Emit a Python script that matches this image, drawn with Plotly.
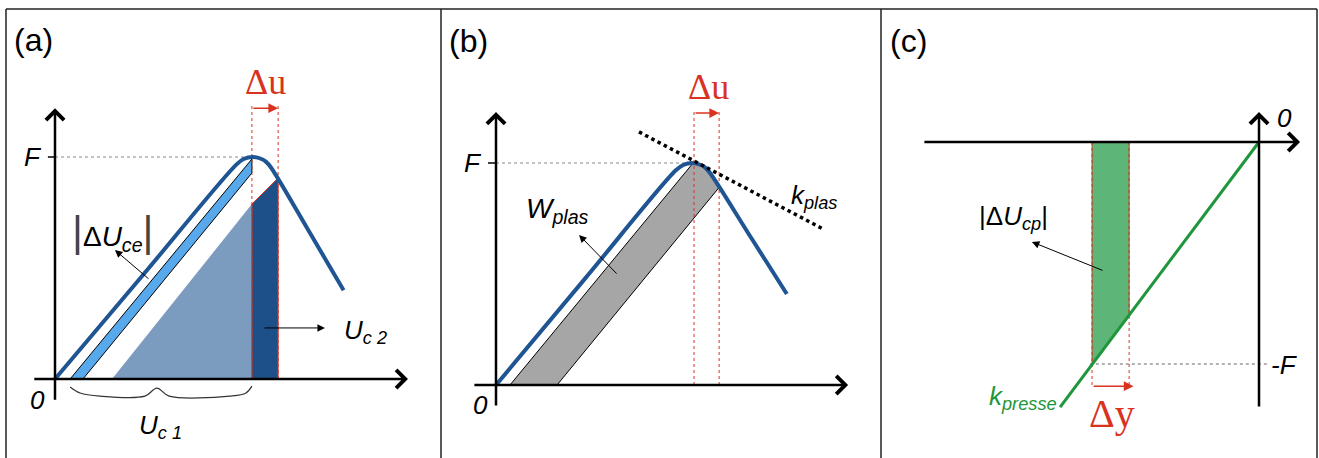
import plotly.graph_objects as go

W, H = 1319, 458
S = 222  # pixels per unit (F = 1)

# ---- panel (a) data (u, F with F = 1) ----
a_curve_u = [0, 0.40, 0.818, 0.85, 0.89, 0.93, 0.951, 0.972, 1.15, 1.30]
a_curve_f = [0, 0.473, 0.967, 0.991, 1.0, 0.991, 0.978, 0.954, 0.655, 0.40]
a_stripe_u = [0.068, 0.887, 0.887, 0.126]
a_stripe_f = [0, 0.991, 0.928, 0]
a_tri_u = [0.257, 0.887, 0.887]
a_tri_f = [0, 0.788, 0]
a_dark_u = [0.887, 0.887, 1.005, 1.005]
a_dark_f = [0, 0.788, 0.905, 0]
a_du = [0.887, 1.005]
a_brace_u = [0.068, 0.113, 0.203, 0.405, 0.459, 0.514, 0.788, 0.86, 0.887]
a_brace_f = [-0.036, -0.063, -0.077, -0.077, -0.041, -0.077, -0.077, -0.063, -0.032]

# ---- panel (b) data ----
b_curve_u = [0, 0.40, 0.81, 0.843, 0.883, 0.923, 0.944, 0.965, 1.15, 1.31]
b_curve_f = [0, 0.478, 0.967, 0.991, 1.0, 0.991, 0.978, 0.954, 0.662, 0.41]
b_band_u = [0.063, 0.887, 0.923, 0.944, 0.965, 1.005, 0.275]
b_band_f = [0, 0.999, 0.991, 0.978, 0.954, 0.89, 0]
b_kplas_u = [0.644, 1.473]
b_kplas_f = [1.14, 0.703]
b_du = [0.892, 1.005]

# ---- panel (c) data ----
c_line_u = [0, -0.896]
c_line_f = [0, -1.194]
c_rect_u = [-0.752, -0.585, -0.585, -0.752]
c_rect_f = [0, 0, -0.78, -1.0]
c_dy = [-0.752, -0.585]

BLUE = '#1f5592'
RED = '#d9331f'
GREEN = '#1e963c'
SANS = 'Liberation Sans'
SERIF = 'Liberation Serif'

# panel boxes in pixels (left, right, top, bottom) and origin pixel
panels = {
    'a': ((6, 441, 9, 458), (55, 379), ('x', 'y')),
    'b': ((441, 881, 9, 458), (496, 385), ('x2', 'y2')),
    'c': ((881, 1317, 9, 458), (1259, 142), ('x3', 'y3')),
}

fig = go.Figure()


def poly(xs, ys, ax, fill, line_color=None, lw=0):
    fig.add_trace(go.Scatter(
        x=xs + [xs[0]], y=ys + [ys[0]], mode='lines', fill='toself',
        fillcolor=fill, line=dict(color=line_color or fill, width=lw),
        xaxis=ax[0], yaxis=ax[1], hoverinfo='skip', showlegend=False))


def line(xs, ys, ax, color, width, dash='solid', shape='linear'):
    fig.add_trace(go.Scatter(
        x=xs, y=ys, mode='lines', line=dict(color=color, width=width, dash=dash, shape=shape),
        xaxis=ax[0], yaxis=ax[1], hoverinfo='skip', showlegend=False))


annotations = []


def arrow(ax, tail, head, color='black', width=1, head_style=2, size=1.5):
    annotations.append(dict(
        xref=ax[0], yref=ax[1], axref=ax[0], ayref=ax[1],
        x=head[0], y=head[1], ax=tail[0], ay=tail[1], text='',
        showarrow=True, arrowhead=head_style, arrowwidth=width,
        arrowsize=size, arrowcolor=color, standoff=0, startstandoff=0))


def label(ax, x, y, text, size=26, color='black', family=SANS, xanchor='center'):
    annotations.append(dict(
        xref=ax[0], yref=ax[1], x=x, y=y, text=text, showarrow=False,
        xanchor=xanchor, yanchor='middle', font=dict(size=size, color=color, family=family)))


bar = "<span style='font-size:42px;color:#444'>|</span>"

# ---------------- panel (a) ----------------
ax = panels['a'][2]
poly(a_tri_u, a_tri_f, ax, '#7b9bbf')
poly(a_dark_u, a_dark_f, ax, '#1d4f88', RED, 1)
poly(a_stripe_u, a_stripe_f, ax, '#58a9ec', 'black', 1)
line([0, a_du[0]], [1, 1], ax, '#888888', 1, 'dot')
for u in a_du:
    line([u, u], [0, 1.234], ax, RED, 1, 'dot')
line(a_curve_u, a_curve_f, ax, BLUE, 4, shape='spline')
line(a_brace_u, a_brace_f, ax, '#333333', 1.2, shape='spline')
line([-0.032, 0], [1, 1], ax, 'black', 1.5)
arrow(ax, (-0.10, 0), (1.59, 0), width=2.5, head_style=4, size=1.4)
arrow(ax, (0, -0.10), (0, 1.22), width=2.5, head_style=4, size=1.4)
arrow(ax, (a_du[0], 1.22), (a_du[1], 1.22), color=RED, width=1.5, size=1.3)
arrow(ax, (0.428, 0.446), (0.27, 0.581))
arrow(ax, (0.937, 0.23), (1.216, 0.23))
label(ax, -0.194, 1.527, '(a)', size=32, xanchor='left')
label(ax, 0.946, 1.338, 'Δu', size=36, color=RED, family=SERIF)
label(ax, -0.10, 1.0, '<i>F</i>')
label(ax, -0.08, -0.095, '<i>0</i>')
label(ax, 0.257, 0.662, bar + 'Δ<i>U<sub>ce</sub></i>' + bar, size=28)
label(ax, 1.40, 0.216, '<i>U<sub>c 2</sub></i>')
label(ax, 0.473, -0.212, '<i>U<sub>c 1</sub></i>')

# ---------------- panel (b) ----------------
ax = panels['b'][2]
poly(b_band_u, b_band_f, ax, '#a6a6a6', 'black', 1)
line([0, b_du[0]], [1, 1], ax, '#888888', 1, 'dot')
for u in b_du:
    line([u, u], [0, 1.239], ax, RED, 1, 'dot')
line(b_curve_u, b_curve_f, ax, BLUE, 4, shape='spline')
line(b_kplas_u, b_kplas_f, ax, 'black', 3.5, 'dot')
line([-0.036, 0], [1, 1], ax, 'black', 1.5)
arrow(ax, (-0.104, 0), (1.586, 0), width=2.5, head_style=4, size=1.4)
arrow(ax, (0, -0.099), (0, 1.23), width=2.5, head_style=4, size=1.4)
arrow(ax, (b_du[0], 1.225), (b_du[1], 1.225), color=RED, width=1.5, size=1.3)
arrow(ax, (0.55, 0.495), (0.374, 0.676))
label(ax, -0.221, 1.55, '(b)', size=32, xanchor='left')
label(ax, 0.959, 1.342, 'Δu', size=36, color=RED, family=SERIF)
label(ax, -0.104, 1.0, '<i>F</i>')
label(ax, -0.068, -0.09, '<i>0</i>')
label(ax, 0.275, 0.788, '<i>W<sub>plas</sub></i>', size=28)
label(ax, 1.432, 0.847, '<i>k<sub>plas</sub></i>')

# ---------------- panel (c) ----------------
ax = panels['c'][2]
poly(c_rect_u, c_rect_f, ax, '#5db577', '#a0522d', 1)
line([c_dy[0] - 0.01, 0.036], [-1, -1], ax, '#666666', 1, 'dot')
for u in c_dy:
    line([u, u], [0, -1.104], ax, RED, 1, 'dot')
line(c_line_u, c_line_f, ax, GREEN, 3)
arrow(ax, (-1.514, 0), (0.185, 0), width=2.5, head_style=4, size=1.4)
arrow(ax, (0, -1.198), (0, 0.135), width=2.5, head_style=4, size=1.4)
arrow(ax, (c_dy[0], -1.10), (c_dy[1] + 0.02, -1.10), color=RED, width=1.5, size=1.3)
arrow(ax, (-0.698, -0.581), (-1.023, -0.45))
label(ax, -1.671, 0.455, '(c)', size=32, xanchor='left')
label(ax, -0.662, -1.225, 'Δy', size=40, color=RED, family=SERIF)
label(ax, 0.117, 0.108, '<i>0</i>')
label(ax, 0.117, -1.005, '<i>-F</i>')
label(ax, -1.108, -0.338, '|Δ<i>U<sub>cp</sub></i>|')
label(ax, -1.063, -1.149, '<i>k<sub>presse</sub></i>', color=GREEN)

# ---------------- layout ----------------
layout = dict(width=W, height=H, margin=dict(l=0, r=0, t=0, b=0),
              paper_bgcolor='white', plot_bgcolor='white',
              annotations=annotations, showlegend=False)

for key, (box, origin, (xa, ya)) in panels.items():
    x0, x1, y0, y1 = box
    ox, oy = origin
    xname = 'xaxis' + xa[1:]
    yname = 'yaxis' + ya[1:]
    layout[xname] = dict(domain=[x0 / W, x1 / W], range=[(x0 - ox) / S, (x1 - ox) / S],
                         visible=False, fixedrange=True, anchor=ya)
    layout[yname] = dict(domain=[(H - y1) / H, (H - y0) / H], range=[(oy - y1) / S, (oy - y0) / S],
                         visible=False, fixedrange=True, anchor=xa)

# panel frames
shapes = []
top = (H - 9) / H
for px in [6, 441, 881, 1317]:
    shapes.append(dict(type='line', xref='paper', yref='paper', x0=px / W, x1=px / W,
                       y0=0, y1=top, line=dict(color='#222222', width=1.5)))
shapes.append(dict(type='line', xref='paper', yref='paper', x0=6 / W, x1=1317 / W,
                   y0=top, y1=top, line=dict(color='#222222', width=1.5)))
layout['shapes'] = shapes

fig.update_layout(**layout)
fig.write_html("out.html", config={'displayModeBar': False},
               post_script="document.body.style.margin = '0px';")
